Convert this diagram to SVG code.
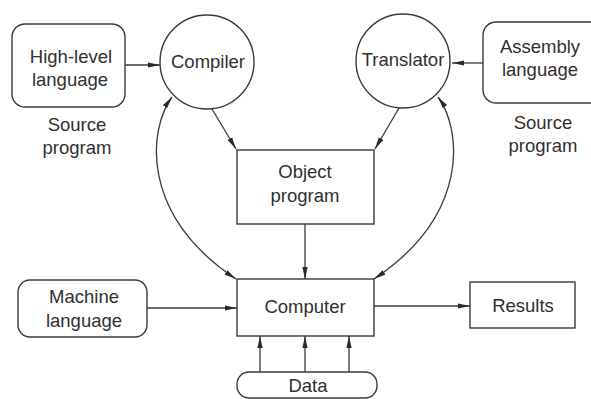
<svg xmlns="http://www.w3.org/2000/svg" width="591" height="399" viewBox="0 0 591 399">
  <style>
    .box { fill: none; stroke: #3a3a3a; stroke-width: 1.4; }
    .lbl { font-family: "Liberation Sans", Arial, sans-serif; font-size: 18.5px; fill: #303030; text-anchor: middle; }
    .edge { fill: none; stroke: #3a3a3a; stroke-width: 1.3; }
  </style>
  <defs>
    <marker id="arrow" viewBox="0 0 12 6" refX="12" refY="3" markerWidth="12" markerHeight="6" markerUnits="userSpaceOnUse" orient="auto-start-reverse">
      <path d="M0,0.4 L12,3 L0,5.6 Z" fill="#2a2a2a"/>
    </marker>
  </defs>
  <rect width="591" height="399" fill="#ffffff"/>

  <g id="high-level">
    <rect class="box" x="12" y="24" width="113" height="83" rx="13"/>
    <text class="lbl" x="71" y="63">High-level</text>
    <text class="lbl" x="70" y="86">language</text>
    <text class="lbl" x="77" y="131">Source</text>
    <text class="lbl" x="77" y="154">program</text>
  </g>

  <g id="compiler">
    <circle class="box" cx="207" cy="62" r="47"/>
    <text class="lbl" x="208" y="68">Compiler</text>
  </g>

  <g id="translator">
    <circle class="box" cx="403" cy="61" r="47"/>
    <text class="lbl" x="403" y="66">Translator</text>
  </g>

  <g id="assembly">
    <rect class="box" x="483" y="22" width="120" height="81" rx="13"/>
    <text class="lbl" x="540" y="53">Assembly</text>
    <text class="lbl" x="540" y="76">language</text>
    <text class="lbl" x="543" y="129">Source</text>
    <text class="lbl" x="543" y="152">program</text>
  </g>

  <g id="object">
    <rect class="box" x="237" y="150" width="137" height="74"/>
    <text class="lbl" x="305" y="178">Object</text>
    <text class="lbl" x="305" y="202">program</text>
  </g>

  <g id="machine">
    <rect class="box" x="18" y="280" width="129" height="57" rx="12"/>
    <text class="lbl" x="84" y="303">Machine</text>
    <text class="lbl" x="84" y="327">language</text>
  </g>

  <g id="computer">
    <rect class="box" x="237" y="279" width="137" height="57"/>
    <text class="lbl" x="305" y="313">Computer</text>
  </g>

  <g id="results">
    <rect class="box" x="470" y="282" width="105" height="46"/>
    <text class="lbl" x="523" y="312">Results</text>
  </g>

  <g id="data">
    <rect class="box" x="237" y="372" width="140" height="26" rx="12"/>
    <text class="lbl" x="308" y="392">Data</text>
  </g>

  <g id="connectors">
    <line class="edge" x1="125" y1="65" x2="160" y2="65" marker-end="url(#arrow)"/>
    <line class="edge" x1="483" y1="63" x2="452" y2="63" marker-end="url(#arrow)"/>
    <line class="edge" x1="212" y1="109" x2="236" y2="149" marker-end="url(#arrow)"/>
    <line class="edge" x1="399" y1="108" x2="375" y2="149" marker-end="url(#arrow)"/>
    <line class="edge" x1="305" y1="224" x2="305" y2="279" marker-end="url(#arrow)"/>
    <path class="edge" d="M172,97 C148,130 140,215 236,279" marker-start="url(#arrow)" marker-end="url(#arrow)"/>
    <path class="edge" d="M438,97 C462,130 470,215 374,279" marker-start="url(#arrow)" marker-end="url(#arrow)"/>
    <line class="edge" x1="147" y1="308" x2="237" y2="308" marker-end="url(#arrow)"/>
    <line class="edge" x1="374" y1="306" x2="470" y2="306" marker-end="url(#arrow)"/>
    <line class="edge" x1="260" y1="372" x2="260" y2="336" marker-end="url(#arrow)"/>
    <line class="edge" x1="305" y1="372" x2="305" y2="336" marker-end="url(#arrow)"/>
    <line class="edge" x1="349" y1="372" x2="349" y2="336" marker-end="url(#arrow)"/>
  </g>
</svg>
